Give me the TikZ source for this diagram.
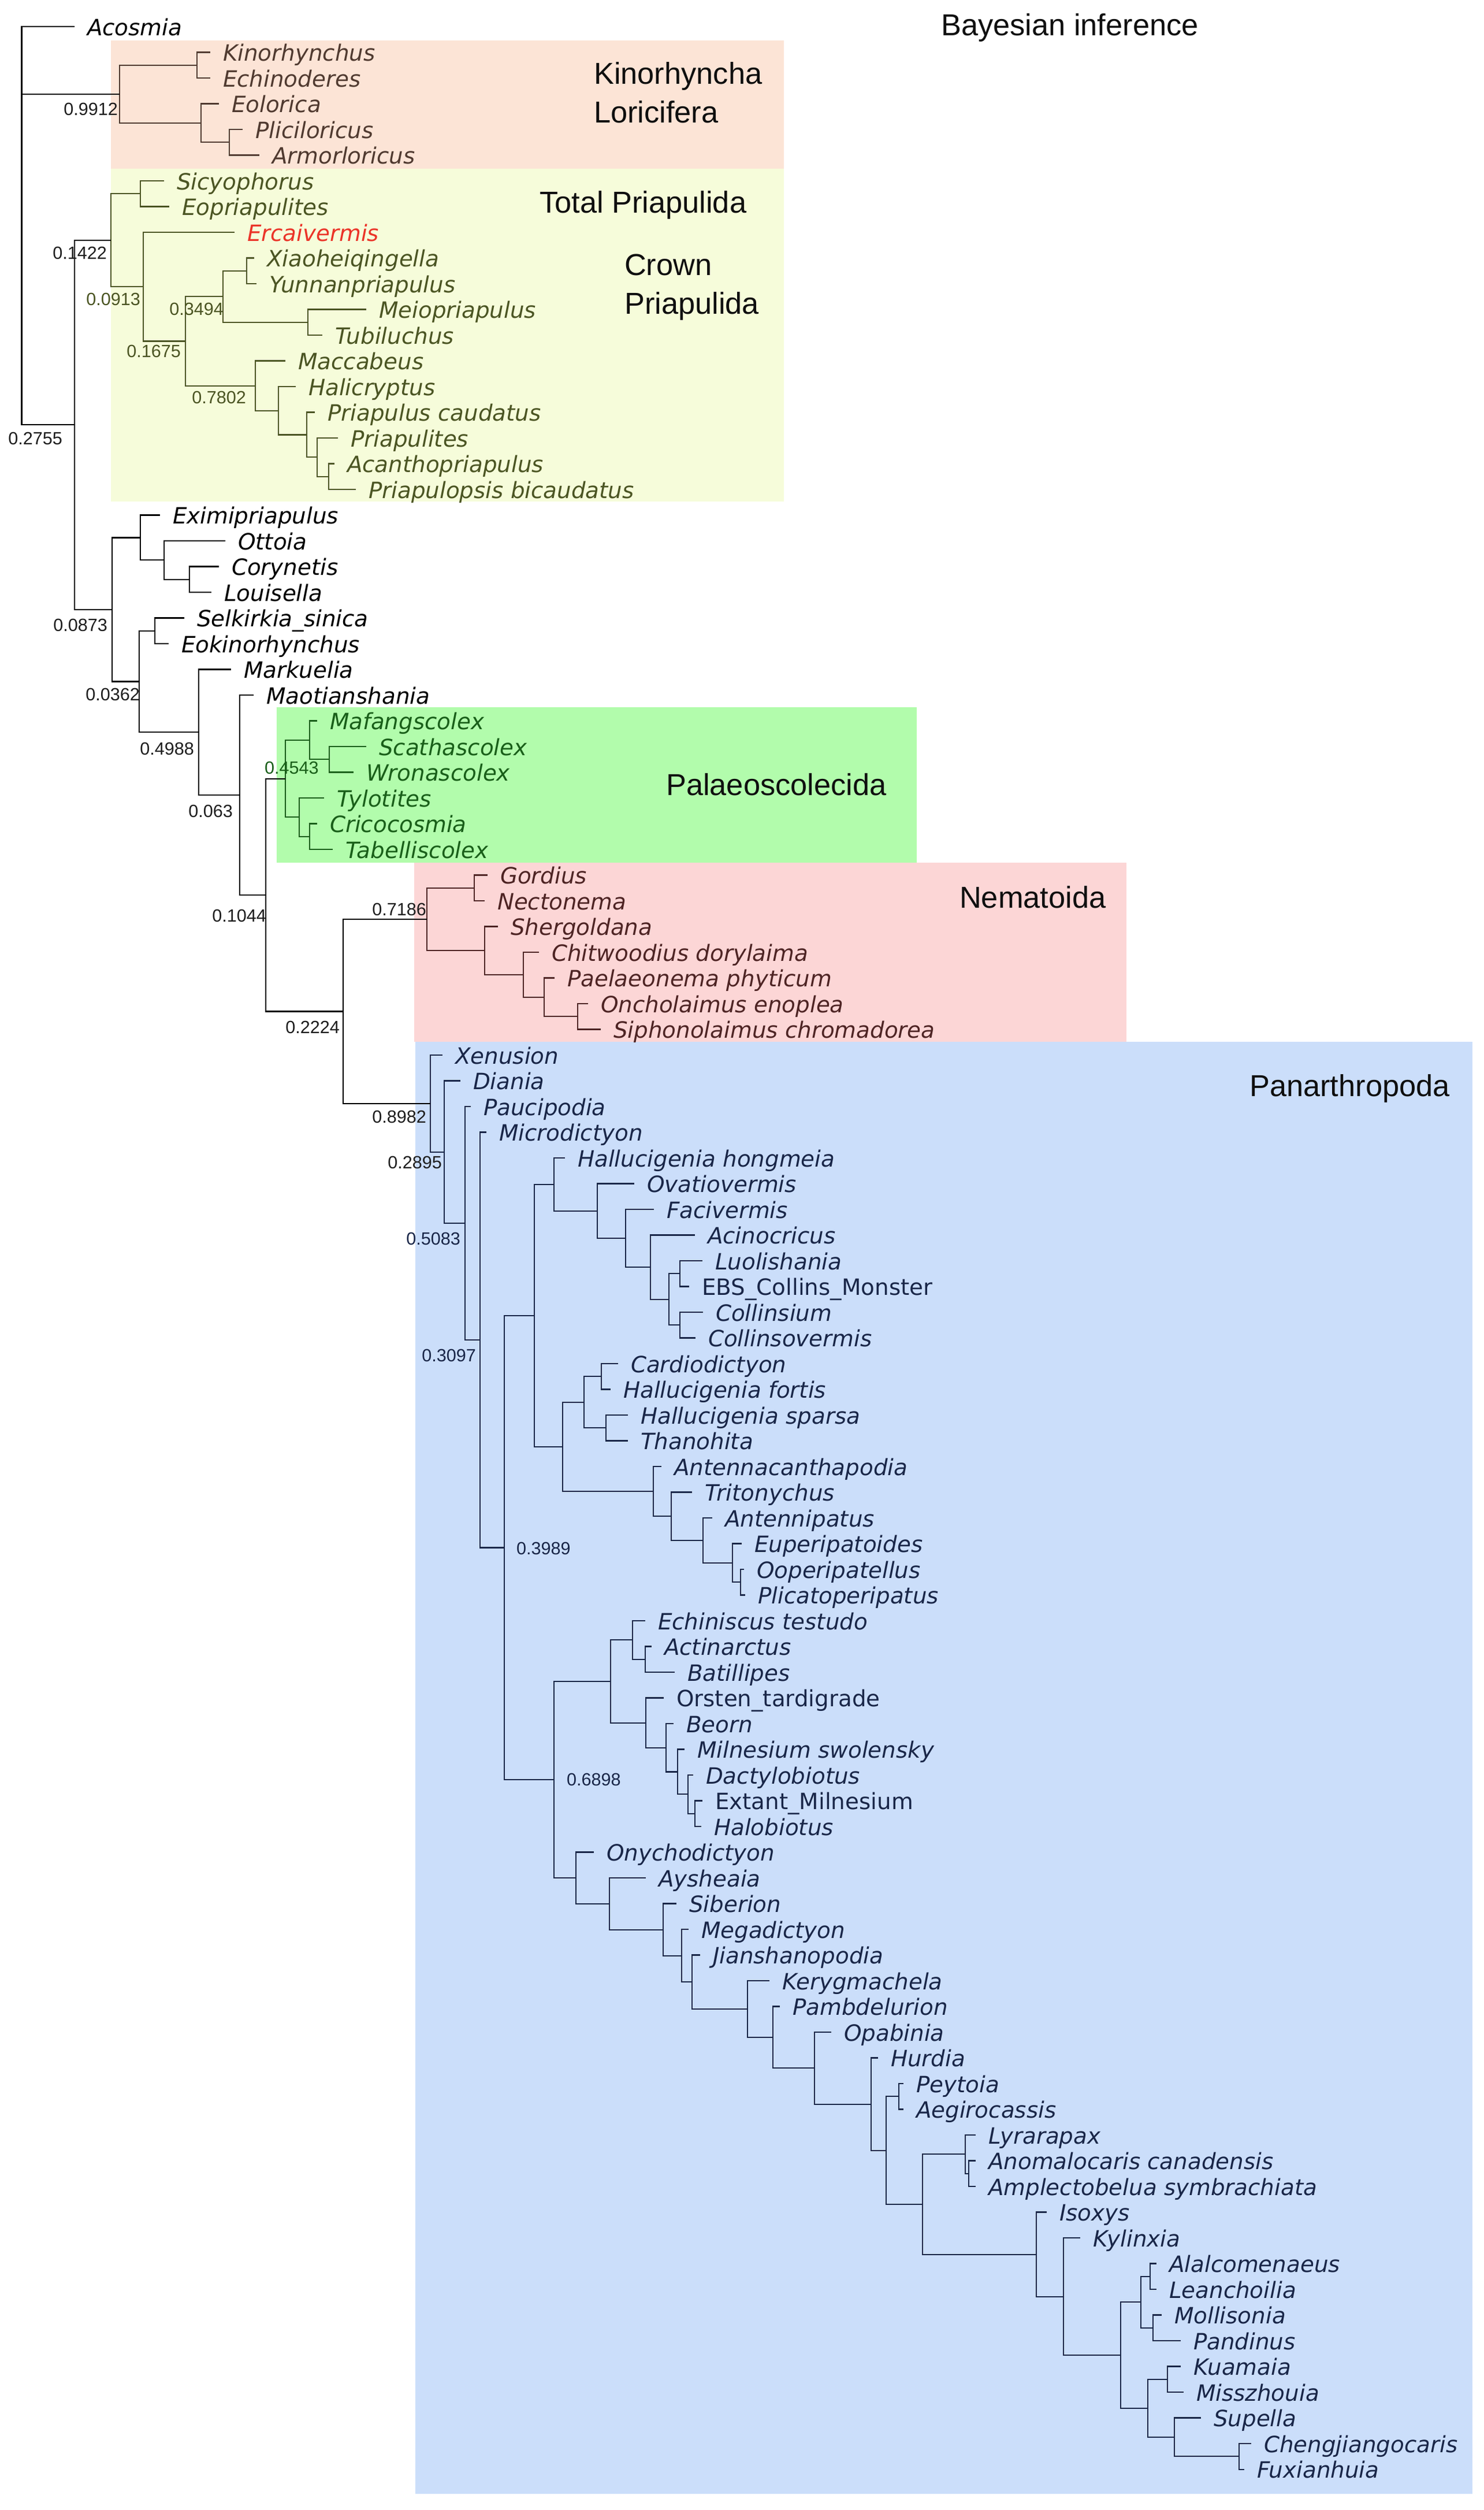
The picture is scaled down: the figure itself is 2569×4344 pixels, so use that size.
\documentclass[tikz,border=0pt]{standalone}
\usepackage{fontspec}
\usetikzlibrary{calc}
\newfontfamily\dejavu{DejaVu Sans}
\newfontfamily\libsans{Liberation Sans}
\definecolor{kinobox}{RGB}{252,228,214}
\definecolor{pribox}{RGB}{246,252,218}
\definecolor{palbox}{RGB}{178,252,172}
\definecolor{nembox}{RGB}{252,214,214}
\definecolor{panbox}{RGB}{203,222,250}
\definecolor{kinotext}{RGB}{80,58,48}
\definecolor{pritext}{RGB}{75,85,35}
\definecolor{paltext}{RGB}{25,95,25}
\definecolor{nemtext}{RGB}{78,36,36}
\definecolor{pantext}{RGB}{25,38,72}
\definecolor{ercred}{RGB}{235,52,40}
\definecolor{numcol}{RGB}{30,30,30}
\definecolor{headcol}{RGB}{15,15,15}
\newcommand\TaxI{\dejavu\fontsize{11.04pt}{13pt}\selectfont\itshape}
\newcommand\TaxU{\dejavu\fontsize{11.04pt}{13pt}\selectfont}
\newcommand\NumF{\libsans\fontsize{8.7pt}{10pt}\selectfont}
\newcommand\HeadF{\libsans\fontsize{14.9pt}{17pt}\selectfont}
% tip: name, row, tip-end x, text, extra style
\newcommand\taxtip[5]{%
  \coordinate (#1) at (#3,{46+44.5*#2});
  \node[tax,#5] (L#1) at (#1) {#4};}
% internal node: name, x, child a, child b
\newcommand\cladenode[4]{%
  \path let \p1=($(#3)!0.5!(#4)$), \p2=(#2,0) in coordinate (#1) at (\x2,\y1);
  \draw (#3) -| (#1) |- (#4);}
\begin{document}
\begin{tikzpicture}[x=0.01cm,y=-0.01cm,line width=0.6pt,
  tax/.style={font=\TaxI,anchor=west,inner xsep=0.21cm,inner ysep=0pt,text height=0.30cm,text depth=0pt},
  taxu/.style={font=\TaxU},
  num/.style={font=\NumF,inner sep=0pt,text height=0.22cm,text depth=0pt,text=numcol},
  head/.style={font=\HeadF,inner sep=0pt,anchor=base west,text=headcol}]
\useasboundingbox (0,0) rectangle (2569,4344);
\fill[white] (0,0) rectangle (2569,4344);
% clade boxes
\fill[kinobox] (192,70) rectangle (1357,292);
\fill[pribox] (192,292) rectangle (1357,868);
\fill[palbox] (479,1224) rectangle (1587,1493);
\fill[nembox] (717,1493) rectangle (1950,1803);
\fill[panbox] (719,1803) rectangle (2549,4316);
% headings
\node[head] (hBayes) at (1628,61) {Bayesian inference};
\node[head] (hKino) at (1027,145) {Kinorhyncha};
\node[head] (hLori) at (1027,212) {Loricifera};
\node[head] (hTotal) at (933,368) {Total Priapulida};
\node[head] (hCrown) at (1080,476) {Crown};
\node[head] (hCrownP) at (1080,543) {Priapulida};
\node[head] (hPalaeo) at (1152,1376) {Palaeoscolecida};
\node[head] (hNema) at (1660,1571) {Nematoida};
\node[head] (hPan) at (2162,1897) {Panarthropoda};
% Kinorhyncha + Loricifera
\begin{scope}[color=kinotext]
\taxtip{Kinor}{1}{364}{Kinorhynchus}{}
\taxtip{Echin}{2}{364}{Echinoderes}{}
\taxtip{Eolor}{3}{379}{Eolorica}{}
\taxtip{Plicil}{4}{420}{Pliciloricus}{}
\taxtip{Armor}{5}{449}{Armorloricus}{}
\cladenode{nK}{341}{Kinor}{Echin}
\cladenode{nLa}{397}{Plicil}{Armor}
\cladenode{nL}{348}{Eolor}{nLa}
\cladenode{nKL}{207}{nK}{nL}
\end{scope}
% Priapulida
\begin{scope}[color=pritext]
\taxtip{Sicyo}{6}{284}{Sicyophorus}{}
\taxtip{Eopri}{7}{293}{Eopriapulites}{}
\taxtip{Ercai}{8}{406}{Ercaivermis}{text=ercred}
\taxtip{Xiao}{9}{440}{Xiaoheiqingella}{}
\taxtip{Yunn}{10}{444}{Yunnanpriapulus}{}
\taxtip{Meio}{11}{634}{Meiopriapulus}{}
\taxtip{Tubil}{12}{558}{Tubiluchus}{}
\taxtip{Macca}{13}{494}{Maccabeus}{}
\taxtip{Halic}{14}{512}{Halicryptus}{}
\taxtip{Pcaud}{15}{545}{Priapulus caudatus}{}
\taxtip{Priap}{16}{585}{Priapulites}{}
\taxtip{Acant}{17}{579}{Acanthopriapulus}{}
\taxtip{Pbica}{18}{616}{Priapulopsis bicaudatus}{}
\cladenode{nSE}{243}{Sicyo}{Eopri}
\cladenode{nXY}{427}{Xiao}{Yunn}
\cladenode{nMT}{533}{Meio}{Tubil}
\cladenode{n3494}{386}{nXY}{nMT}
\cladenode{nAP}{569}{Acant}{Pbica}
\cladenode{nPP}{549}{Priap}{nAP}
\cladenode{nPC}{531}{Pcaud}{nPP}
\cladenode{nHa}{482}{Halic}{nPC}
\cladenode{n7802}{442}{Macca}{nHa}
\cladenode{n1675}{321}{n3494}{n7802}
\cladenode{n0913}{248}{Ercai}{n1675}
\cladenode{nP}{192}{nSE}{n0913}
\end{scope}
% Palaeoscolecida
\begin{scope}[color=paltext]
\taxtip{Mafang}{27}{549}{Mafangscolex}{}
\taxtip{Scath}{28}{634}{Scathascolex}{}
\taxtip{Wrona}{29}{612}{Wronascolex}{}
\taxtip{Tylot}{30}{561}{Tylotites}{}
\taxtip{Crico}{31}{549}{Cricocosmia}{}
\taxtip{Tabel}{32}{576}{Tabelliscolex}{}
\cladenode{nSW}{570}{Scath}{Wrona}
\cladenode{nMa}{536}{Mafang}{nSW}
\cladenode{nCT}{536}{Crico}{Tabel}
\cladenode{nTy}{518}{Tylot}{nCT}
\cladenode{n4543}{494}{nMa}{nTy}
\end{scope}
% Nematoida
\begin{scope}[color=nemtext]
\taxtip{Gord}{33}{844}{Gordius}{}
\taxtip{Necto}{34}{839}{Nectonema}{}
\taxtip{Sherg}{35}{862}{Shergoldana}{}
\taxtip{Chitw}{36}{933}{Chitwoodius dorylaima}{}
\taxtip{Paela}{37}{960}{Paelaeonema phyticum}{}
\taxtip{Oncho}{38}{1018}{Oncholaimus enoplea}{}
\taxtip{Sipho}{39}{1040}{Siphonolaimus chromadorea}{}
\cladenode{nGN}{821}{Gord}{Necto}
\cladenode{nOS}{1000}{Oncho}{Sipho}
\cladenode{nPa}{942}{Paela}{nOS}
\cladenode{nCh}{906}{Chitw}{nPa}
\cladenode{nSh}{839}{Sherg}{nCh}
\cladenode{n7186}{739}{nGN}{nSh}
\end{scope}
% Panarthropoda
\begin{scope}[color=pantext]
\taxtip{Xenus}{40}{766}{Xenusion}{}
\taxtip{Diania}{41}{797}{Diania}{}
\taxtip{Paucip}{42}{815}{Paucipodia}{}
\taxtip{Microd}{43}{842}{Microdictyon}{}
\taxtip{Hhong}{44}{978}{Hallucigenia hongmeia}{}
\taxtip{Ovatio}{45}{1098}{Ovatiovermis}{}
\taxtip{Faciv}{46}{1132}{Facivermis}{}
\taxtip{Acino}{47}{1203}{Acinocricus}{}
\taxtip{Luoli}{48}{1216}{Luolishania}{}
\taxtip{EBS}{49}{1193}{EBS\_Collins\_Monster}{taxu}
\taxtip{Collsi}{50}{1217}{Collinsium}{}
\taxtip{Collso}{51}{1204}{Collinsovermis}{}
\taxtip{Cardio}{52}{1070}{Cardiodictyon}{}
\taxtip{Hfort}{53}{1057}{Hallucigenia fortis}{}
\taxtip{Hspar}{54}{1087}{Hallucigenia sparsa}{}
\taxtip{Thano}{55}{1087}{Thanohita}{}
\taxtip{Antac}{56}{1145}{Antennacanthapodia}{}
\taxtip{Trito}{57}{1198}{Tritonychus}{}
\taxtip{Antip}{58}{1233}{Antennipatus}{}
\taxtip{Euper}{59}{1284}{Euperipatoides}{}
\taxtip{Ooper}{60}{1288}{Ooperipatellus}{}
\taxtip{Plicat}{61}{1290}{Plicatoperipatus}{}
\taxtip{Echis}{62}{1117}{Echiniscus testudo}{}
\taxtip{Actin}{63}{1128}{Actinarctus}{}
\taxtip{Batil}{64}{1168}{Batillipes}{}
\taxtip{Orsten}{65}{1149}{Orsten\_tardigrade}{taxu}
\taxtip{Beorn}{66}{1166}{Beorn}{}
\taxtip{Milsw}{67}{1185}{Milnesium swolensky}{}
\taxtip{Dacty}{68}{1200}{Dactylobiotus}{}
\taxtip{Extant}{69}{1216}{Extant\_Milnesium}{taxu}
\taxtip{Halob}{70}{1214}{Halobiotus}{}
\taxtip{Onycho}{71}{1028}{Onychodictyon}{}
\taxtip{Aysh}{72}{1118}{Aysheaia}{}
\taxtip{Siber}{73}{1171}{Siberion}{}
\taxtip{Megad}{74}{1192}{Megadictyon}{}
\taxtip{Jiansh}{75}{1212}{Jianshanopodia}{}
\taxtip{Keryg}{76}{1332}{Kerygmachela}{}
\taxtip{Pambd}{77}{1350}{Pambdelurion}{}
\taxtip{Opab}{78}{1439}{Opabinia}{}
\taxtip{Hurd}{79}{1520}{Hurdia}{}
\taxtip{Peyt}{80}{1564}{Peytoia}{}
\taxtip{Aegir}{81}{1564}{Aegirocassis}{}
\taxtip{Lyra}{82}{1689}{Lyrarapax}{}
\taxtip{Anoma}{83}{1689}{Anomalocaris canadensis}{}
\taxtip{Ampl}{84}{1689}{Amplectobelua symbrachiata}{}
\taxtip{Isox}{85}{1812}{Isoxys}{}
\taxtip{Kylin}{86}{1870}{Kylinxia}{}
\taxtip{Alalc}{87}{2002}{Alalcomenaeus}{}
\taxtip{Leanc}{88}{2002}{Leanchoilia}{}
\taxtip{Mollis}{89}{2011}{Mollisonia}{}
\taxtip{Pandi}{90}{2044}{Pandinus}{}
\taxtip{Kuam}{91}{2044}{Kuamaia}{}
\taxtip{Missz}{92}{2049}{Misszhouia}{}
\taxtip{Supel}{93}{2079}{Supella}{}
\taxtip{Cheng}{94}{2166}{Chengjiangocaris}{}
\taxtip{Fuxia}{95}{2154}{Fuxianhuia}{}
\cladenode{nLE}{1177}{Luoli}{EBS}
\cladenode{nCC}{1177}{Collsi}{Collso}
\cladenode{nLC}{1158}{nLE}{nCC}
\cladenode{nAc}{1126}{Acino}{nLC}
\cladenode{nFa}{1083}{Faciv}{nAc}
\cladenode{nOv}{1034}{Ovatio}{nFa}
\cladenode{nHh}{959}{Hhong}{nOv}
\cladenode{nCF}{1041}{Cardio}{Hfort}
\cladenode{nST}{1049}{Hspar}{Thano}
\cladenode{nHal}{1011}{nCF}{nST}
\cladenode{nOP}{1282}{Ooper}{Plicat}
\cladenode{nEu}{1268}{Euper}{nOP}
\cladenode{nAn}{1217}{Antip}{nEu}
\cladenode{nTr}{1162}{Trito}{nAn}
\cladenode{nAa}{1131}{Antac}{nTr}
\cladenode{nZ}{974}{nHal}{nAa}
\cladenode{nX}{925}{nHh}{nZ}
\cladenode{nAB}{1117}{Actin}{Batil}
\cladenode{nEc}{1095}{Echis}{nAB}
\cladenode{nEH}{1203}{Extant}{Halob}
\cladenode{nDa}{1191}{Dacty}{nEH}
\cladenode{nMi}{1173}{Milsw}{nDa}
\cladenode{nBe}{1153}{Beorn}{nMi}
\cladenode{nOr}{1118}{Orsten}{nBe}
\cladenode{nT}{1057}{nEc}{nOr}
\cladenode{nPA}{1556}{Peyt}{Aegir}
\cladenode{nAA}{1677}{Anoma}{Ampl}
\cladenode{nLy}{1671}{Lyra}{nAA}
\cladenode{nAL}{1991}{Alalc}{Leanc}
\cladenode{nMP}{1996}{Mollis}{Pandi}
\cladenode{nAM}{1975}{nAL}{nMP}
\cladenode{nKM}{2021}{Kuam}{Missz}
\cladenode{nCFx}{2145}{Cheng}{Fuxia}
\cladenode{nSu}{2033}{Supel}{nCFx}
\cladenode{nKu}{1987}{nKM}{nSu}
\cladenode{nAr}{1940}{nAM}{nKu}
\cladenode{nKy}{1841}{Kylin}{nAr}
\cladenode{nIs}{1794}{Isox}{nKy}
\cladenode{nQ}{1597}{nLy}{nIs}
\cladenode{nHu2}{1534}{nPA}{nQ}
\cladenode{nHu}{1508}{Hurd}{nHu2}
\cladenode{nOp}{1410}{Opab}{nHu}
\cladenode{nPm}{1338}{Pambd}{nOp}
\cladenode{nKe}{1294}{Keryg}{nPm}
\cladenode{nJi}{1198}{Jiansh}{nKe}
\cladenode{nMe}{1180}{Megad}{nJi}
\cladenode{nSi}{1148}{Siber}{nMe}
\cladenode{nAy}{1055}{Aysh}{nSi}
\cladenode{nU}{997}{Onycho}{nAy}
\cladenode{n6898}{959}{nT}{nU}
\cladenode{n3989}{873}{nX}{n6898}
\cladenode{n3097}{831}{Microd}{n3989}
\cladenode{n5083}{805}{Paucip}{n3097}
\cladenode{n2895}{769}{Diania}{n5083}
\cladenode{n8982}{745}{Xenus}{n2895}
\end{scope}
% backbone (black)
\begin{scope}[color=black]
\taxtip{Acosmia}{0}{129}{Acosmia}{}
\taxtip{Eximi}{19}{277}{Eximipriapulus}{}
\taxtip{Ottoia}{20}{390}{Ottoia}{}
\taxtip{Coryn}{21}{379}{Corynetis}{}
\taxtip{Louis}{22}{366}{Louisella}{}
\taxtip{Selk}{23}{319}{Selkirkia\_sinica}{}
\taxtip{Eokin}{24}{292}{Eokinorhynchus}{}
\taxtip{Markue}{25}{400}{Markuelia}{}
\taxtip{Maot}{26}{439}{Maotianshania}{}
\cladenode{nCL}{328}{Coryn}{Louis}
\cladenode{nOt}{284}{Ottoia}{nCL}
\cladenode{nEx}{243}{Eximi}{nOt}
\cladenode{nSK}{268}{Selk}{Eokin}
\cladenode{n2224}{594}{n7186}{n8982}
\cladenode{n1044}{460}{n4543}{n2224}
\cladenode{n063}{415}{Maot}{n1044}
\cladenode{n4988}{344}{Markue}{n063}
\cladenode{n0362}{241}{nSK}{n4988}
\cladenode{n0873}{194}{nEx}{n0362}
\cladenode{n2755}{129}{nP}{n0873}
\path let \p1=(nKL), \p2=(37.5,0) in coordinate (root) at (\x2,\y1);
\draw (Acosmia) -| (root) |- (n2755);
\draw (root) -- (nKL);
\end{scope}
% posterior values
\node[num,anchor=north east] (v9912) at ([shift={(-2,14)}]nKL) {0.9912};
\node[num,anchor=north east] (v1422) at ([shift={(-6,10)}]nP) {0.1422};
\node[num,anchor=north east,text=pritext] (v0913) at ([shift={(-4,9)}]n0913) {0.0913};
\node[num,anchor=north east,text=pritext] (v3494) at ([shift={(2,9)}]n3494) {0.3494};
\node[num,anchor=north east,text=pritext] (v1675) at ([shift={(-7,5)}]n1675) {0.1675};
\node[num,anchor=north east,text=pritext] (v7802) at ([shift={(-15,8)}]n7802) {0.7802};
\node[num,anchor=north east] (v2755) at ([shift={(-20,11)}]n2755) {0.2755};
\node[num,anchor=north east] (v0873) at ([shift={(-7,14)}]n0873) {0.0873};
\node[num,anchor=north east] (v0362) at ([shift={(2,10)}]n0362) {0.0362};
\node[num,anchor=north east] (v4988) at ([shift={(-7,16)}]n4988) {0.4988};
\node[num,anchor=north east] (v063) at ([shift={(-11,15)}]n063) {0.063};
\node[num,anchor=south west,text=paltext] (v4543) at ([shift={(-37,-7)}]n4543) {0.4543};
\node[num,anchor=north east] (v1044) at ([shift={(2,23)}]n1044) {0.1044};
\node[num,anchor=south east] (v7186) at ([shift={(0,-5)}]n7186) {0.7186};
\node[num,anchor=north east] (v2224) at ([shift={(-5,15)}]n2224) {0.2224};
\node[num,anchor=north east] (v8982) at ([shift={(-6,11)}]n8982) {0.8982};
\node[num,anchor=north east] (v2895) at ([shift={(-3,6)}]n2895) {0.2895};
\node[num,anchor=north east,text=pantext] (v5083) at ([shift={(-7,14)}]n5083) {0.5083};
\node[num,anchor=north east,text=pantext] (v3097) at ([shift={(-6,14)}]n3097) {0.3097};
\node[num,anchor=north west,text=pantext] (v3989) at ([shift={(20,-11)}]n3989) {0.3989};
\node[num,anchor=north west,text=pantext] (v6898) at ([shift={(21,-13)}]n6898) {0.6898};
\end{tikzpicture}
\end{document}
